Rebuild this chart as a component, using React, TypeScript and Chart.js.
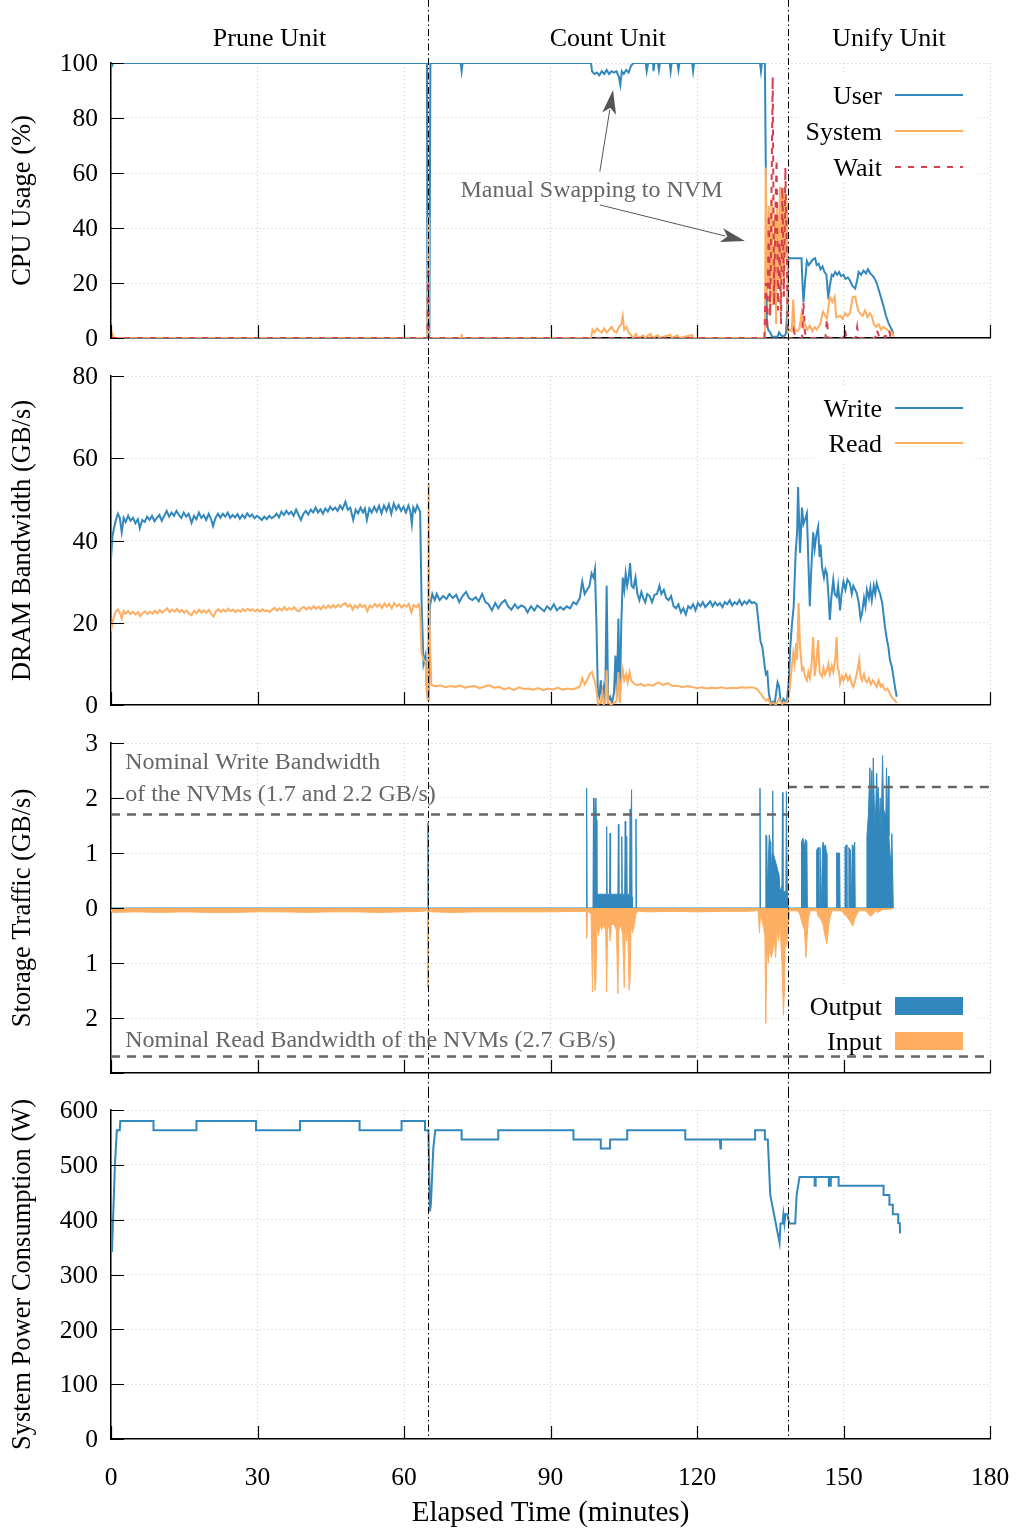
import React, { useEffect, useRef } from 'react';
import { Chart, registerables } from 'chart.js';

Chart.register(...registerables);

// ---------------- data (minutes, value) ----------------
const unitNames = ['Prune Unit', 'Count Unit', 'Unify Unit'];
const unitBounds = [0, 64.9, 138.6, 180];

const cpuUser: number[][] = [
  [0, 98], [0.3, 99.5], [0.6, 100], [64.7, 100], [64.8, 1], [65.2, 1], [65.4, 100], [71.6, 100], [71.8, 97], [72, 100],
  [98.3, 100], [98.5, 97], [99, 96], [99.5, 96.5], [100, 95.5], [100.5, 97], [101, 96], [101.5, 97.5], [102, 96], [102.5, 97],
  [103, 96.5], [103.5, 97], [104, 95], [104.3, 92], [104.6, 97], [105, 96], [105.5, 97.5], [106, 96.5], [106.5, 99], [107, 100],
  [109.5, 100], [109.7, 97], [110, 100], [111, 100], [111.1, 97], [111.3, 100], [112, 100], [112.2, 97.5], [112.4, 100],
  [114.4, 100], [114.6, 97], [114.8, 100], [116, 100], [116.2, 97.5], [116.4, 100], [119, 100], [119.2, 97], [119.4, 100],
  [132.9, 100], [133.1, 97], [133.3, 100], [133.9, 100], [134.1, 60], [134.3, 5], [134.6, 3], [135, 2], [135.4, 0.5], [136, 0.5],
  [136.5, 0.5], [136.8, 2], [137.2, 1], [137.7, 0.5], [138.2, 1.5], [138.5, 10], [138.7, 29], [141.4, 29], [141.6, 20], [141.8, 13],
  [142.1, 20], [142.5, 28], [142.9, 26.5], [143.3, 27.5], [143.7, 28.5], [144.2, 29], [144.5, 26.5], [144.9, 27], [145.3, 25],
  [145.7, 26], [146.1, 24], [146.5, 23], [146.9, 14], [147.2, 19], [147.6, 23], [147.9, 22.5], [148.3, 24], [148.7, 23], [149.1, 24],
  [149.5, 22.5], [150, 23], [150.4, 21.5], [150.9, 22], [151.3, 21], [151.8, 19], [152.4, 18], [152.8, 21], [153.1, 24], [153.6, 23],
  [154.1, 24.5], [154.6, 23.5], [155, 25], [155.5, 23.5], [156, 22.6], [156.4, 21.5], [156.8, 20], [157.3, 17], [157.8, 14],
  [158.2, 11.5], [158.7, 8], [159.2, 5.5], [159.6, 4], [159.9, 3], [160.2, 1.5],
];

const cpuSystem: number[][] = [
  [0, 0], [0.3, 1.5], [0.6, 0], [64.8, 0], [64.95, 44], [65.1, 0], [71.7, 0], [71.8, 1.5], [71.9, 0], [98.3, 0], [98.6, 3],
  [99, 2], [99.5, 3.5], [100, 2.5], [100.5, 2], [101, 3.5], [101.5, 2], [102, 3], [102.5, 4], [103, 2.5], [103.5, 2], [104, 4],
  [104.5, 5], [104.8, 8], [105.1, 3], [105.6, 4], [106, 2], [106.5, 1], [107, 0], [107.5, 1.5], [108, 0], [109, 1], [109.3, 0],
  [110.5, 1.5], [110.8, 0], [112, 1], [112.3, 0], [114.5, 1.2], [114.8, 0], [116, 1], [116.3, 0], [119, 1], [119.3, 0], [133.9, 0],
  [134.1, 62], [134.3, 15], [134.5, 25], [134.7, 48], [134.9, 8], [135.1, 35], [135.3, 51], [135.5, 12], [135.8, 24], [136, 45],
  [136.2, 5], [136.4, 48], [136.6, 18], [136.8, 36], [137, 55], [137.2, 10], [137.4, 38], [137.6, 51], [137.8, 20], [138, 55],
  [138.2, 30], [138.4, 50], [138.6, 2], [139, 3], [139.4, 2.5], [139.7, 14], [140, 3], [140.5, 2.5], [141, 3.5], [141.4, 9],
  [141.8, 4], [142.1, 5], [142.6, 3], [143.1, 4.5], [143.6, 2.5], [144.1, 4], [144.5, 3], [145.2, 5], [145.8, 9.5], [146.6, 7],
  [147.2, 15], [147.7, 13], [148.2, 15], [148.5, 7.6], [149.3, 8], [149.8, 7], [150.3, 9], [150.8, 8], [151.3, 9], [151.9, 15],
  [152.4, 15], [153, 10], [153.4, 9], [153.9, 8], [154.4, 10], [154.9, 7.6], [155.4, 9], [155.8, 8], [156.2, 5], [156.7, 4],
  [157.2, 5], [157.7, 3], [158.2, 4], [158.9, 3], [159.4, 2.5], [159.9, 2], [160.3, 0.5],
];

const cpuWait: number[][] = [
  [0, 0], [64.8, 0], [64.95, 28], [65.1, 0], [133.8, 0], [134.1, 20], [134.4, 3], [134.7, 45], [135, 8], [135.5, 95],
  [135.8, 12], [136.1, 50], [136.3, 65], [136.6, 10], [136.9, 35], [137.2, 5], [137.5, 55], [137.8, 15], [138.1, 62], [138.4, 30],
  [138.6, 0], [139.5, 0], [139.8, 3], [140.2, 0], [141.5, 0], [141.8, 13], [142.1, 2], [142.5, 0], [146.3, 0], [146.6, 7],
  [146.9, 0], [150, 0], [150.3, 3], [150.6, 0], [152.5, 0], [152.8, 4], [153.1, 0], [156.5, 0], [156.8, 3], [157.2, 1], [158, 2],
  [158.5, 0], [159.3, 3], [159.7, 0], [160.3, 0],
];

const dramWrite: number[][] = [
  [0, 35.5], [0.3, 41], [0.6, 43], [1, 45], [1.4, 46.5], [1.8, 45.5], [2.2, 42], [2.6, 45.5], [3, 44.5], [3.5, 46], [4, 44.8],
  [4.5, 45.5], [5, 44.2], [5.5, 45.2], [5.9, 43], [6.4, 45], [6.9, 44.5], [7.4, 45.8], [7.9, 45], [8.4, 46], [8.9, 44.7], [9.4, 45.5],
  [9.9, 46.2], [10.4, 44.8], [10.9, 46], [11.4, 47.2], [11.9, 45.8], [12.4, 46.8], [12.9, 46], [13.4, 47.2], [13.9, 46.2],
  [14.4, 45.5], [14.9, 46.8], [15.4, 45.8], [15.9, 46.5], [16.5, 44.3], [17, 46], [17.5, 45.2], [18, 46.8], [18.5, 45.5], [19, 46.2],
  [19.5, 45], [20, 46.5], [20.5, 45.2], [20.9, 43.5], [21.4, 45.5], [21.9, 46.5], [22.4, 45.5], [22.9, 46.5], [23.4, 45.8],
  [23.9, 46.8], [24.4, 45.5], [24.9, 46.2], [25.4, 45.6], [25.9, 46.4], [26.4, 45.3], [26.9, 46.2], [27.4, 45.5], [27.9, 46.6],
  [28.4, 45.8], [28.9, 46.3], [29.4, 45.4], [29.9, 46], [30.4, 45.5], [30.9, 45], [31.4, 45.8], [31.9, 45.2], [32.4, 46], [32.9, 45.4],
  [33.4, 45.8], [33.9, 46.5], [34.4, 45.6], [34.9, 47], [35.4, 46.2], [35.9, 47.2], [36.4, 46.4], [36.9, 47], [37.4, 46], [37.9, 47.5],
  [38.4, 46.2], [38.9, 45], [39.4, 46.5], [39.9, 47.2], [40.4, 46.3], [40.9, 47.5], [41.4, 46.8], [41.9, 48], [42.4, 46.8],
  [42.9, 47.6], [43.4, 46.5], [43.9, 47.8], [44.4, 47], [44.9, 48.2], [45.4, 47.4], [45.9, 48], [46.4, 47.2], [46.9, 48.5],
  [47.4, 47.6], [48, 49.4], [48.5, 47.5], [49, 48], [49.6, 45], [50.1, 47.5], [50.6, 46.6], [51.1, 48], [51.6, 46.8], [52, 47.8],
  [52.4, 45], [52.9, 47.8], [53.4, 46.8], [53.9, 48.2], [54.4, 47], [54.9, 48.4], [55.4, 46.6], [55.9, 48.5], [56.4, 47.2],
  [56.9, 48.8], [57.4, 46.5], [57.9, 49], [58.4, 47.5], [58.9, 48.6], [59.4, 47.2], [59.9, 48.2], [60.4, 46.8], [60.9, 48.5],
  [61.3, 47], [61.6, 44], [61.9, 48], [62.3, 47], [62.7, 48.5], [63.1, 47.5], [63.3, 47], [63.6, 25], [64, 10], [64.4, 12],
  [64.7, 3], [65, 1], [65.3, 24], [65.8, 27], [66.3, 25.5], [66.7, 27], [67.3, 25.5], [68, 26.5], [68.7, 25.8], [69.3, 27], [70, 26],
  [70.7, 26.8], [71.3, 25], [72, 26.5], [72.7, 27.5], [73.3, 26], [74, 25.5], [74.7, 26.2], [75.3, 25.2], [76, 27], [76.7, 25],
  [77.3, 24.5], [78, 23], [78.7, 24.8], [79.3, 23.5], [80, 24.8], [80.7, 25.5], [81.3, 24], [82, 23.2], [82.7, 24.5], [83.3, 23.5],
  [84, 24.2], [84.7, 23.8], [85.3, 22.5], [86, 24], [86.7, 23], [87.3, 24.2], [88, 23.5], [88.7, 22.8], [89.3, 24], [90, 23.2],
  [90.7, 24.5], [91.3, 23], [92, 23.8], [92.7, 23.2], [93.3, 24], [94, 23.5], [94.7, 25], [95.3, 24.5], [96, 26], [96.5, 30],
  [97, 27], [97.5, 28], [98, 29], [98.4, 32], [98.8, 31], [99.1, 33], [99.4, 20], [99.7, 3], [100, 2], [100.3, 6], [100.6, 1],
  [100.9, 4], [101.2, 0.5], [101.5, 29], [101.8, 1], [102.2, 2], [102.6, 0.5], [103, 3], [103.3, 12], [103.6, 2], [103.9, 21],
  [104.2, 1], [104.5, 20], [104.8, 31], [105.1, 28], [105.4, 32], [105.7, 29], [106, 31], [106.3, 34.5], [106.6, 29], [107, 28.5],
  [107.4, 31], [107.8, 27], [108.2, 25.5], [108.6, 27.5], [109, 26], [109.4, 25], [109.8, 27], [110.3, 26.5], [110.8, 25],
  [111.3, 26.8], [111.8, 27], [112.3, 29], [112.7, 27], [113.2, 28], [113.7, 26], [114.2, 25.5], [114.7, 26.5], [115.2, 24],
  [115.7, 23.5], [116.2, 24.5], [116.7, 22.5], [117.2, 23.5], [117.7, 22], [118.2, 24], [118.7, 23.5], [119.2, 24.5], [119.7, 23],
  [120.2, 24.8], [120.7, 24], [121.2, 25], [121.7, 23.8], [122.2, 24.5], [122.7, 25.2], [123.2, 24], [123.7, 25], [124.2, 24.2],
  [124.7, 24.8], [125.2, 23.8], [125.7, 25], [126.2, 24.5], [126.7, 25.5], [127.2, 24.2], [127.7, 25], [128.2, 24.5], [128.7, 25.5],
  [129.2, 24.3], [129.7, 25.2], [130.2, 24.6], [130.7, 25.5], [131.2, 24.8], [131.7, 25], [132.2, 24.5], [132.6, 20], [133, 15.5],
  [133.4, 14], [133.8, 10], [134.1, 7.5], [134.4, 8], [134.7, 3], [135, 1], [135.3, 0.5], [135.6, 0.8], [135.9, 0.3], [136.2, 3],
  [136.5, 5.5], [136.8, 4.5], [137.1, 1], [137.4, 0.5], [137.7, 1.5], [138, 1], [138.4, 0.8], [138.8, 6], [139.1, 14], [139.4, 19],
  [139.8, 24], [140.2, 37], [140.5, 42], [140.7, 53], [141.1, 37], [141.5, 48], [141.8, 44], [142.1, 45], [142.5, 46.6], [142.8, 35],
  [143.1, 24], [143.4, 33], [143.8, 42], [144.1, 38], [144.4, 41], [144.8, 43.3], [145.1, 36], [145.3, 39], [145.6, 33.6], [146, 31],
  [146.3, 33], [146.6, 32], [146.9, 27], [147.2, 20.7], [147.5, 26], [147.9, 30.4], [148.2, 27], [148.6, 26.3], [148.9, 29],
  [149.3, 23], [149.6, 27], [150, 30], [150.4, 28], [150.8, 30.5], [151.3, 29.6], [151.7, 27], [152, 29], [152.4, 28], [152.7, 27.2],
  [153.1, 25], [153.5, 21], [153.8, 22.3], [154.2, 26], [154.5, 24], [154.8, 28], [155.2, 26], [155.5, 28.5], [155.8, 25.5],
  [156.2, 29], [156.5, 27], [156.8, 29.6], [157.2, 28], [157.5, 27], [157.9, 25], [158.2, 22], [158.5, 19], [158.9, 15.8],
  [159.2, 14], [159.5, 11], [159.9, 9.3], [160.2, 7], [160.6, 4], [160.9, 2],
];

const dramRead: number[][] = [
  [0, 18], [0.3, 20], [0.6, 21.5], [1, 22.8], [1.4, 23.2], [1.8, 22.5], [2.2, 21], [2.6, 22.8], [3, 22.2], [3.5, 22.9], [4, 22.1],
  [4.5, 22.7], [5, 22], [5.5, 22.6], [6, 21.6], [6.5, 22.4], [7, 22.8], [7.5, 22.1], [8, 22.7], [8.5, 22.2], [9, 22.9], [9.5, 22.3],
  [10, 23.1], [10.5, 22.4], [11, 23], [11.5, 23.5], [12, 22.6], [12.5, 23.2], [13, 22.7], [13.5, 23.4], [14, 22.6], [14.5, 23.1],
  [15, 22.4], [15.5, 23], [16, 22.2], [16.5, 21.8], [17, 22.9], [17.5, 22.3], [18, 23.2], [18.5, 22.5], [19, 23], [19.5, 22.4],
  [20, 23.1], [20.5, 22.2], [21, 21.5], [21.5, 22.8], [22, 23.3], [22.5, 22.6], [23, 23.2], [23.5, 22.7], [24, 23.4], [24.5, 22.8],
  [25, 23.2], [25.5, 22.6], [26, 23.1], [26.5, 22.7], [27, 23.3], [27.5, 22.8], [28, 23.4], [28.5, 22.9], [29, 23.3], [29.5, 22.8],
  [30, 23.2], [30.5, 22.7], [31, 23.3], [31.5, 22.8], [32, 23], [32.5, 22.6], [33, 23.2], [33.5, 23.6], [34, 22.9], [34.5, 23.5],
  [35, 23], [35.5, 23.8], [36, 23.1], [36.5, 23.6], [37, 23.2], [37.5, 23.8], [38, 23], [38.5, 22.8], [39, 23.5], [39.5, 23.9],
  [40, 23.2], [40.5, 23.8], [41, 23.3], [41.5, 24], [42, 23.4], [42.5, 23.9], [43, 23.3], [43.5, 24.1], [44, 23.5], [44.5, 24.2],
  [45, 23.6], [45.5, 24.3], [46, 23.7], [46.5, 24.4], [47, 23.8], [47.5, 24.5], [48, 24.8], [48.5, 23.9], [49, 24.4], [49.5, 23.2],
  [50, 24.2], [50.5, 23.6], [51, 24.5], [51.5, 23.8], [52, 24.3], [52.5, 22.8], [53, 24.2], [53.5, 23.7], [54, 24.6], [54.5, 23.9],
  [55, 24.5], [55.5, 23.6], [56, 24.7], [56.5, 23.9], [57, 24.6], [57.5, 23.5], [58, 24.8], [58.5, 24], [59, 24.5], [59.5, 23.7],
  [60, 24.4], [60.5, 23.9], [61, 24.6], [61.5, 22.5], [62, 24.3], [62.5, 23.8], [63, 24.5], [63.3, 23], [63.6, 12.6], [64, 11],
  [64.4, 10.5], [64.7, 3], [64.9, 1], [65.05, 54], [65.2, 20], [65.6, 4.9], [66.5, 4.5], [67.5, 4.8], [68.5, 4.3], [69.5, 4.6],
  [70.5, 4.4], [71.5, 4.7], [72.5, 4.2], [73.5, 4.5], [74.5, 4.6], [75.5, 4.1], [76.5, 4.5], [77.5, 4.8], [78.5, 4.2], [79.5, 4.4],
  [80.5, 3.8], [81.5, 4.2], [82.5, 3.6], [83.5, 4.3], [84.5, 3.9], [85.5, 4], [86.5, 3.7], [87.5, 4.1], [88.5, 3.6], [89.5, 4],
  [90.5, 3.8], [91.5, 4.2], [92.5, 3.7], [93.5, 4], [94.5, 3.8], [95.5, 4.2], [96, 4.5], [96.5, 6.5], [97, 5], [97.5, 6], [98, 7.5],
  [98.5, 8], [99, 6], [99.4, 4], [99.7, 0.3], [100.3, 0.5], [100.6, 3], [100.9, 0.2], [101.2, 0.5], [101.5, 8.5], [101.8, 0.5],
  [102.4, 0.2], [103, 0.5], [103.5, 1], [103.9, 8], [104.2, 0.5], [104.5, 6], [104.8, 8.5], [105.1, 6], [105.5, 7.5], [105.8, 5.5],
  [106.2, 8], [106.5, 6], [106.9, 5.5], [107.3, 5], [108, 4.8], [108.5, 5.2], [109.2, 4.6], [110, 5], [111, 4.7], [112, 5.5],
  [113, 4.9], [114, 5.3], [115, 4.6], [116, 4.7], [117, 4.3], [118, 4.6], [119, 4.4], [120, 4.1], [121, 4.3], [122, 4], [123, 4.2],
  [124, 4.1], [125, 4.3], [126, 4], [127, 4.2], [128, 4.1], [129, 4.3], [130, 4.2], [131, 4.3], [132, 4.1], [132.6, 3.5],
  [133.2, 2.5], [133.8, 1.5], [134.2, 1], [134.6, 1.5], [135, 0.3], [135.6, 0.5], [136.2, 0.2], [136.8, 1.5], [137.4, 0.3],
  [138, 0.5], [138.6, 1], [138.9, 3], [139.3, 8], [139.7, 12.6], [140, 10], [140.3, 15], [140.5, 11], [140.8, 24.8], [141.1, 14],
  [141.5, 8.5], [141.8, 9], [142.1, 7], [142.5, 6], [142.8, 8], [143.1, 6.5], [143.4, 9], [143.8, 16.5], [144.1, 7], [144.4, 10],
  [144.8, 15.8], [145.1, 8], [145.6, 6.9], [145.9, 9], [146.2, 7.5], [146.6, 8.5], [146.9, 10], [147.2, 7.5], [147.6, 9.5],
  [147.9, 8], [148.3, 11], [148.6, 16.5], [148.8, 9], [149.1, 8], [149.3, 5.3], [149.7, 7], [150, 6], [150.5, 7.5], [150.9, 6],
  [151.3, 7], [151.7, 5], [152, 4.4], [152.4, 6], [152.8, 8], [153.2, 11], [153.5, 7], [153.8, 6], [154.2, 7.5], [154.5, 6],
  [154.8, 5.5], [155.2, 6.5], [155.6, 5], [156, 6], [156.4, 5.3], [156.8, 4.4], [157.2, 6], [157.6, 4.5], [157.9, 5], [158.3, 4],
  [158.6, 3.6], [159, 4], [159.4, 3], [159.8, 2], [160.2, 1.5], [160.6, 1], [160.9, 0.5],
];

const storageOutput: number[][] = [
  [0, 0], [64.8, 0], [64.9, 1.55], [65, 0], [97.3, 0], [97.4, 2.18], [97.5, 0], [98.7, 0], [98.8, 2.0], [98.9, 0.25], [99.1, 1.8],
  [99.3, 2.0], [99.4, 1.6], [99.5, 0.25], [101.4, 0.25], [101.5, 1.48], [101.6, 0.25], [102.1, 0.25], [102.2, 1.36], [102.3, 0.25],
  [103.8, 0.25], [103.9, 1.52], [104, 0.25], [104.5, 0.25], [104.6, 1.3], [104.7, 0.25], [105.2, 0.25], [105.3, 1.58],
  [105.4, 0.25], [105.5, 0.25], [105.6, 1.3], [105.7, 0.25], [106.2, 0.25], [106.3, 1.8], [106.4, 1.2], [106.6, 2.15], [106.7, 0.2],
  [106.8, 0], [107.4, 0], [107.5, 1.62], [107.6, 0], [132.8, 0], [132.9, 2.18], [133, 0], [134, 0], [134.1, 1.33], [134.3, 1.3],
  [134.4, 0.3], [134.8, 1.33], [135, 1.2], [135.1, 0.6], [135.4, 1.0], [135.5, 2.13], [135.6, 1.0], [135.9, 0.9], [136.2, 0.8],
  [136.5, 0.7], [136.8, 0.6], [137, 0.3], [137.4, 0.4], [137.5, 2.1], [137.6, 0.3], [138.2, 0.3], [138.3, 2.12], [138.5, 0.3],
  [138.7, 0], [141.3, 0], [141.4, 1.2], [141.7, 1.27], [142, 1.1], [142.2, 1.25], [142.5, 1.2], [142.6, 0], [144.4, 0], [144.5, 1.05],
  [144.8, 1.1], [144.9, 0], [145.1, 0], [145.2, 1.1], [145.5, 0], [145.7, 1.15], [145.8, 1.2], [146, 1.1], [146.3, 1.15],
  [146.5, 1.0], [146.6, 0], [148.5, 0], [148.6, 1.0], [149.2, 1.0], [149.3, 0], [150.2, 0], [150.3, 1.1], [150.6, 1.15],
  [150.7, 0], [151, 0], [151.1, 1.1], [151.4, 1.05], [151.6, 0], [151.8, 1.15], [152.1, 1.1], [152.3, 1.2], [152.4, 0],
  [154.7, 0], [154.8, 1.3], [155.1, 1.7], [155.4, 2.55], [155.6, 1.8], [155.8, 2.5], [155.9, 1.6], [156.1, 2.73], [156.3, 1.9],
  [156.5, 1.5], [156.8, 2.45], [157, 1.8], [157.1, 2.2], [157.3, 1.5], [157.5, 2.0], [157.7, 1.4], [158, 2.77], [158.2, 1.8],
  [158.5, 1.7], [158.6, 1.2], [158.8, 2.55], [159, 1.6], [159.2, 2.4], [159.3, 1.3], [159.5, 1.0], [159.7, 0.8], [159.9, 1.35],
  [160.1, 0.5], [160.2, 0],
];

const storageInput: number[][] = [
  [0, -0.06], [0.5, -0.08], [5, -0.07], [10, -0.08], [15, -0.07], [20, -0.08], [25, -0.08], [30, -0.07], [35, -0.07], [40, -0.08],
  [45, -0.07], [50, -0.07], [55, -0.08], [60, -0.07], [64, -0.06], [64.8, -0.03], [64.9, -1.45], [65, -0.05], [65.5, -0.07],
  [70, -0.08], [75, -0.07], [80, -0.07], [85, -0.07], [90, -0.07], [95, -0.06], [97.3, -0.06], [97.4, -0.55], [97.6, -0.06],
  [98.3, -0.1], [98.6, -1.53], [98.8, -0.3], [99.1, -1.5], [99.3, -1.3], [99.5, -0.3], [99.8, -0.5], [100.2, -0.3], [100.5, -0.4],
  [100.8, -0.3], [101.3, -0.4], [101.5, -1.53], [101.7, -0.4], [102, -0.3], [102.2, -0.6], [102.5, -0.3], [103, -0.3],
  [103.5, -0.4], [103.8, -1.56], [104, -0.4], [104.4, -0.3], [104.8, -0.5], [105.1, -1.45], [105.3, -0.4], [105.6, -0.6],
  [105.8, -0.3], [106.1, -1.5], [106.3, -1.3], [106.5, -0.3], [106.8, -0.45], [107.2, -0.3], [107.5, -0.1], [108, -0.06],
  [110, -0.07], [115, -0.06], [120, -0.07], [125, -0.06], [130, -0.06], [132.5, -0.05], [132.8, -0.45], [133, -0.1], [133.5, -0.3],
  [133.9, -0.5], [134.1, -2.1], [134.3, -0.7], [134.6, -1.0], [134.9, -0.7], [135.2, -0.9], [135.5, -0.8], [135.8, -0.5],
  [136.1, -0.9], [136.4, -0.4], [136.7, -0.6], [137, -0.3], [137.4, -1.0], [137.7, -1.95], [137.9, -1.5], [138.1, -0.5],
  [138.4, -0.7], [138.7, -0.3], [139, -0.05], [140.5, -0.05], [141, -0.1], [141.6, -0.3], [142, -0.4], [142.3, -0.9],
  [142.5, -0.6], [142.8, -0.2], [143.2, -0.05], [144.5, -0.05], [144.8, -0.15], [145.3, -0.2], [145.8, -0.3], [146.2, -0.5],
  [146.6, -0.65], [147, -0.3], [147.3, -0.15], [147.7, -0.05], [149.5, -0.05], [150, -0.1], [150.6, -0.15], [151, -0.2],
  [151.4, -0.25], [151.9, -0.33], [152.3, -0.2], [152.8, -0.1], [153.3, -0.05], [154.5, -0.05], [155, -0.1], [155.5, -0.15],
  [156, -0.12], [156.5, -0.05], [157, -0.08], [158, -0.03], [160, -0.02], [160.2, 0],
];

const nominalWriteLow: number[][] = [[0, 1.7], [138.6, 1.7]];
const nominalWriteHigh: number[][] = [[138.6, 2.2], [180, 2.2]];
const nominalRead: number[][] = [[0, -2.7], [180, -2.7]];

const power: number[][] = [
  [0.2, 341], [0.8, 500], [1.2, 563], [1.8, 563], [1.9, 580], [8.7, 580], [8.7, 563], [17.5, 563], [17.5, 580], [29.7, 580],
  [29.7, 563], [38.7, 563], [38.7, 580], [50.9, 580], [50.9, 563], [59.5, 563], [59.5, 580], [64.3, 580], [64.3, 563], [65, 563],
  [65.3, 415], [65.5, 427], [66, 530], [66.4, 563], [71.8, 563], [71.8, 546], [79.3, 546], [79.3, 563], [94.7, 563], [94.7, 546],
  [100.3, 546], [100.3, 530], [102.2, 530], [102.2, 546], [105.7, 546], [105.7, 563], [117.6, 563], [117.6, 546], [124.7, 546],
  [124.8, 530], [124.9, 546], [131.9, 546], [131.9, 563], [133.9, 563], [133.9, 546], [134.5, 546], [135, 445], [136.9, 358],
  [137.1, 393], [137.5, 393], [137.7, 410], [137.9, 393], [138.1, 410], [138.5, 410], [138.9, 393], [140.1, 393], [140.4, 445],
  [141, 478], [144.1, 478], [144.1, 462], [144.3, 462], [144.3, 478], [147, 478], [147, 462], [147.4, 462], [147.4, 478],
  [149, 478], [149, 462], [158.2, 462], [158.2, 445], [159.4, 445], [159.4, 427], [160.1, 427], [160.1, 410], [161.2, 410],
  [161.2, 394], [161.5, 394], [161.6, 375],
];

const swapText = 'Manual Swapping to NVM';
const swapTextAt = [98.4, 54.2];
const swapArrows: number[][][] = [
  [[100.1, 60.5], [102.8, 90.2]],
  [[100.1, 48.4], [129.8, 35.3]],
];
const nominalTexts: [string, number, number][] = [
  ['Nominal Write Bandwidth', 2.9, 2.67],
  ['of the NVMs (1.7 and 2.2 GB/s)', 2.9, 2.09],
  ['Nominal Read Bandwidth of the NVMs (2.7 GB/s)', 2.9, -2.38],
];

// ---------------- styles ----------------
const FONT = "'Liberation Serif', 'Times New Roman', serif";
const BLUE = '#3288bd';
const ORANGE = '#fdae61';
const RED = '#d53e4f';
const NOTE = '#666666';
const GRID = '#c8c8c8';
const W = 1016;
const PLOT_LEFT = 111;
const PLOT_RIGHT = 990;
const TXT_DY = 2;

const pts = (a: number[][]) => a.map(([x, y]) => ({ x, y }));

function lineDs(label: string, data: number[][], color: string, extra: any = {}) {
  return {
    label,
    data: pts(data),
    borderColor: color,
    backgroundColor: color,
    borderWidth: 2,
    pointRadius: 0,
    tension: 0,
    fill: false,
    ...extra,
  };
}

function drawArrow(ctx: CanvasRenderingContext2D, x1: number, y1: number, x2: number, y2: number) {
  const ang = Math.atan2(y2 - y1, x2 - x1);
  const L = 24;
  const hw = 7;
  const c = Math.cos(ang);
  const s = Math.sin(ang);
  const bx = x2 - L * c;
  const by = y2 - L * s;
  ctx.beginPath();
  ctx.moveTo(x1, y1);
  ctx.lineTo(bx + 4 * c, by + 4 * s);
  ctx.stroke();
  ctx.beginPath();
  ctx.moveTo(x2, y2);
  ctx.lineTo(bx + hw * s, by - hw * c);
  ctx.lineTo(bx + 6 * c, by + 6 * s);
  ctx.lineTo(bx - hw * s, by + hw * c);
  ctx.closePath();
  ctx.fill();
}

function decor(spec: any) {
  return {
    id: 'decor',
    beforeDatasetsDraw(chart: any) {
      const lg = spec.legend;
      if (!lg) return;
      const ctx = chart.ctx;
      ctx.save();
      ctx.fillStyle = '#ffffff';
      ctx.fillRect(lg.box[0], lg.box[1], lg.box[2] - lg.box[0], lg.box[3] - lg.box[1]);
      ctx.restore();
    },
    afterDatasetsDraw(chart: any) {
      const { ctx, chartArea: a } = chart;
      const xs = chart.scales.x;
      const ys = chart.scales.y;
      ctx.save();
      // inward ticks
      ctx.strokeStyle = '#000';
      ctx.lineWidth = 1.2;
      ctx.beginPath();
      for (const t of ys.ticks) {
        const py = Math.round(ys.getPixelForValue(t.value)) + 0.5;
        ctx.moveTo(a.left, py);
        ctx.lineTo(a.left + 13, py);
      }
      for (const t of xs.ticks) {
        const px = Math.round(xs.getPixelForValue(t.value)) + 0.5;
        ctx.moveTo(px, a.bottom);
        ctx.lineTo(px, a.bottom - 13);
      }
      ctx.stroke();

      // legend
      const lg = spec.legend;
      if (lg) {
        ctx.font = `26px ${FONT}`;
        ctx.textAlign = 'right';
        ctx.textBaseline = 'middle';
        lg.items.forEach((it: any, i: number) => {
          const y = lg.y0 + i * lg.dy;
          ctx.fillStyle = '#000';
          ctx.fillText(it.label, 882, y + TXT_DY);
          if (it.kind === 'box') {
            ctx.fillStyle = it.color;
            ctx.fillRect(895, y - 9, 68, 18);
          } else {
            ctx.strokeStyle = it.color;
            ctx.lineWidth = 2;
            ctx.setLineDash(it.kind === 'dash' ? [6, 7] : []);
            ctx.beginPath();
            ctx.moveTo(895, y);
            ctx.lineTo(963, y);
            ctx.stroke();
            ctx.setLineDash([]);
          }
        });
      }

      // unit boundaries (dash-dot)
      ctx.strokeStyle = '#000';
      ctx.lineWidth = 1;
      ctx.setLineDash([7, 3, 1.5, 3]);
      for (const b of unitBounds.slice(1, -1)) {
        const px = Math.round(xs.getPixelForValue(b)) + 0.5;
        ctx.beginPath();
        ctx.moveTo(px, 0);
        ctx.lineTo(px, spec.last ? a.bottom : chart.height);
        ctx.stroke();
      }
      ctx.setLineDash([]);

      if (spec.extra) spec.extra(ctx, xs, ys);
      ctx.restore();
    },
  };
}

function extraCpu(ctx: CanvasRenderingContext2D, xs: any, ys: any) {
  ctx.fillStyle = '#000';
  ctx.font = `26px ${FONT}`;
  ctx.textAlign = 'center';
  ctx.textBaseline = 'middle';
  for (let i = 0; i < unitNames.length; i++) {
    const mid = (unitBounds[i] + unitBounds[i + 1]) / 2;
    ctx.fillText(unitNames[i], xs.getPixelForValue(mid), 37 + TXT_DY);
  }
  ctx.fillStyle = NOTE;
  ctx.font = `24px ${FONT}`;
  ctx.fillText(swapText, xs.getPixelForValue(swapTextAt[0]), ys.getPixelForValue(swapTextAt[1]) + TXT_DY);
  ctx.strokeStyle = '#555';
  ctx.fillStyle = '#555';
  ctx.lineWidth = 1;
  for (const [from, to] of swapArrows) {
    drawArrow(ctx, xs.getPixelForValue(from[0]), ys.getPixelForValue(from[1]), xs.getPixelForValue(to[0]), ys.getPixelForValue(to[1]));
  }
}

function extraStorage(ctx: CanvasRenderingContext2D, xs: any, ys: any) {
  ctx.fillStyle = NOTE;
  ctx.font = `24px ${FONT}`;
  ctx.textAlign = 'left';
  ctx.textBaseline = 'middle';
  for (const [txt, x, y] of nominalTexts) {
    ctx.fillText(txt, xs.getPixelForValue(x), ys.getPixelForValue(y) + TXT_DY);
  }
}

const panels: any[] = [
  {
    top: 0, height: 357, padTop: 63, padBottom: 19,
    yMin: 0, yMax: 100, yStep: 20, yTitle: 'CPU Usage (%)',
    datasets: () => [
      lineDs('User', cpuUser, BLUE, { order: 3 }),
      lineDs('System', cpuSystem, ORANGE, { order: 2 }),
      lineDs('Wait', cpuWait, RED, { order: 1, borderDash: [6, 7] }),
    ],
    legend: {
      box: [800, 75, 977, 183], y0: 95, dy: 36,
      items: [{ label: 'User', color: BLUE, kind: 'line' }, { label: 'System', color: ORANGE, kind: 'line' }, { label: 'Wait', color: RED, kind: 'dash' }],
    },
    extra: extraCpu,
  },
  {
    top: 357, height: 367, padTop: 19, padBottom: 19,
    yMin: 0, yMax: 80, yStep: 20, yTitle: 'DRAM Bandwidth (GB/s)',
    datasets: () => [
      lineDs('Write', dramWrite, BLUE, { order: 2 }),
      lineDs('Read', dramRead, ORANGE, { order: 1 }),
    ],
    legend: {
      box: [813, 28, 973, 105], y0: 51, dy: 35,
      items: [{ label: 'Write', color: BLUE, kind: 'line' }, { label: 'Read', color: ORANGE, kind: 'line' }],
    },
  },
  {
    top: 724, height: 367, padTop: 19, padBottom: 18,
    yMin: -3, yMax: 3, yStep: 1, yTitle: 'Storage Traffic (GB/s)',
    yCb: (v: number) => (v === -3 ? '' : String(Math.abs(v))),
    datasets: () => [
      lineDs('Output', storageOutput, BLUE, { order: 2, fill: 'origin', borderWidth: 1 }),
      lineDs('Input', storageInput, ORANGE, { order: 1, fill: 'origin', borderWidth: 1 }),
      lineDs('nw1', nominalWriteLow, '#666', { order: 0, borderDash: [9, 7], borderWidth: 2.5 }),
      lineDs('nw2', nominalWriteHigh, '#666', { order: 0, borderDash: [9, 7], borderWidth: 2.5 }),
      lineDs('nr', nominalRead, '#666', { order: 0, borderDash: [9, 7], borderWidth: 2.5 }),
    ],
    legend: {
      box: [800, 261, 977, 329], y0: 282, dy: 35,
      items: [{ label: 'Output', color: BLUE, kind: 'box' }, { label: 'Input', color: ORANGE, kind: 'box' }],
    },
    extra: extraStorage,
  },
  {
    top: 1091, height: 440, padTop: 19, padBottom: 0, last: true,
    yMin: 0, yMax: 600, yStep: 100, yTitle: 'System Power Consumption (W)',
    datasets: () => [lineDs('Power', power, BLUE)],
  },
];

function makeConfig(spec: any) {
  const last = !!spec.last;
  const tickFont = { family: FONT, size: 25.5 };
  return {
    type: 'line',
    data: { datasets: spec.datasets() },
    options: {
      animation: false,
      responsive: false,
      devicePixelRatio: 1,
      events: [],
      layout: { padding: { left: 0, right: W - PLOT_RIGHT, top: spec.padTop, bottom: spec.padBottom } },
      plugins: { legend: { display: false }, tooltip: { enabled: false } },
      scales: {
        x: {
          type: 'linear',
          min: 0,
          max: 180,
          ticks: { stepSize: 30, display: last, font: tickFont, color: '#000', padding: 24, maxRotation: 0, autoSkip: false },
          grid: { color: GRID, drawTicks: false, lineWidth: 1 },
          border: { display: true, color: '#000', width: 1.5, dash: [1, 3] },
          title: last
            ? { display: true, text: 'Elapsed Time (minutes)', font: { family: FONT, size: 29 }, color: '#000', padding: { top: 0, bottom: 0 } }
            : { display: false },
          afterFit: (s: any) => {
            s.height = last ? 92 : 0;
            s.paddingLeft = 0;
            s.paddingRight = 0;
            s.paddingTop = 0;
            s.paddingBottom = 0;
          },
        },
        y: {
          type: 'linear',
          min: spec.yMin,
          max: spec.yMax,
          ticks: {
            stepSize: spec.yStep,
            font: tickFont,
            color: '#000',
            padding: 13,
            labelOffset: 1.5,
            ...(spec.yCb ? { callback: spec.yCb } : {}),
          },
          grid: { color: GRID, drawTicks: false, lineWidth: 1 },
          border: { display: true, color: '#000', width: 1.5, dash: [1, 3] },
          title: { display: true, text: spec.yTitle, font: { family: FONT, size: 26.5 }, color: '#000', padding: { top: 7, bottom: 0 } },
          afterFit: (s: any) => {
            s.width = PLOT_LEFT;
            s.paddingLeft = 0;
            s.paddingRight = 0;
            s.paddingTop = 0;
            s.paddingBottom = 0;
          },
        },
      },
    },
    plugins: [decor(spec)],
  };
}

export default function App() {
  const refs = useRef<(HTMLCanvasElement | null)[]>([]);
  useEffect(() => {
    const charts = panels.map((p, i) => new Chart(refs.current[i] as HTMLCanvasElement, makeConfig(p) as any));
    return () => charts.forEach((c) => c.destroy());
  }, []);
  return (
    <div style={{ position: 'absolute', left: 0, top: 0, width: W, height: 1531, background: '#fff' }}>
      {panels.map((p, i) => (
        <canvas
          key={i}
          ref={(el) => {
            refs.current[i] = el;
          }}
          width={W}
          height={p.height}
          style={{ position: 'absolute', left: 0, top: p.top, width: W, height: p.height, display: 'block' }}
        />
      ))}
    </div>
  );
}
